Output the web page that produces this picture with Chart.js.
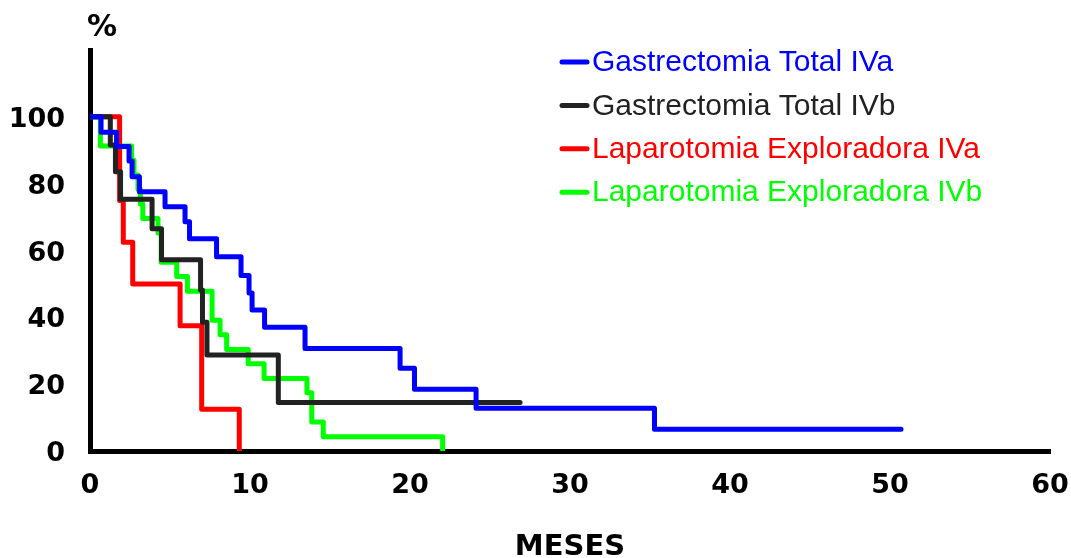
<!DOCTYPE html>
<html>
<head>
<meta charset="utf-8">
<script src="https://cdn.jsdelivr.net/npm/chart.js@4/dist/chart.umd.min.js"></script>
<style>
  html, body { margin: 0; padding: 0; background: #ffffff; }
  #wrap { width: 1071px; height: 558px; }
</style>
</head>
<body>
<div id="wrap"><canvas id="km" width="1071" height="558"></canvas></div>
<script>
// Kaplan-Meier survival curves (months vs % surviving)
const seriesLabels = [
  'Gastrectomia Total IVa',
  'Gastrectomia Total IVb',
  'Laparotomia Exploradora IVa',
  'Laparotomia Exploradora IVb'
];

const gtIVaMonths = [0, 0.69, 1.66, 2.44, 2.63, 3.09, 4.69, 5.94, 6.22, 7.91, 9.44, 9.94, 10.13, 10.91, 13.44, 19.38, 20.28, 24.13, 35.28, 50.69];
const gtIVaPct    = [100, 95.4, 91.1, 86.8, 82.1, 77.6, 73.1, 68.6, 63.5, 58.1, 52.5, 47.3, 42.2, 37.0, 30.7, 24.8, 18.5, 12.8, 6.5, 6.5];

const gtIVbMonths = [0, 1.27, 1.59, 1.91, 3.88, 4.47, 6.91, 7.03, 7.31, 11.77, 26.88];
const gtIVbPct    = [100, 91.6, 83.6, 75.3, 66.5, 57.2, 48.2, 38.5, 28.7, 14.5, 14.5];

const leIVaMonths = [0, 1.85, 2.08, 2.67, 5.63, 6.98, 9.33];
const leIVaPct    = [100, 75, 62.5, 50, 37.5, 12.5, 0];

const leIVbMonths = [0, 0.65, 2.6, 2.75, 3.0, 3.15, 3.3, 4.25, 4.45, 5.42, 6.09, 7.63, 8.13, 8.54, 9.89, 10.88, 13.56, 13.86, 14.58, 22.04];
const leIVbPct    = [100, 91.3, 87, 82.6, 78.3, 73.9, 69.6, 65.2, 56.5, 52.2, 47.8, 39.1, 34.8, 30.4, 26.1, 21.7, 17.4, 8.7, 4.3, 0];

const seriesColors = ['#0000ff', '#222222', '#ff0000', '#00ff00'];
const drawOrder    = [0, 1, 2, 3];

const xTickValues = [0, 10, 20, 30, 40, 50, 60];
const yTickValues = [0, 20, 40, 60, 80, 100];

const xTitle = 'MESES';
const yUnit = '%';

function toPoints(months, pct) {
  return months.map((m, i) => ({ x: m, y: pct[i] }));
}

const seriesData = [
  toPoints(gtIVaMonths, gtIVaPct),
  toPoints(gtIVbMonths, gtIVbPct),
  toPoints(leIVaMonths, leIVaPct),
  toPoints(leIVbMonths, leIVbPct)
];

const datasets = seriesData.map((pts, i) => ({
  label: seriesLabels[i],
  data: pts,
  borderColor: seriesColors[i],
  backgroundColor: seriesColors[i],
  borderWidth: 5,
  stepped: 'before',
  pointRadius: 0,
  fill: false,
  borderCapStyle: 'round',
  borderJoinStyle: 'round',
  order: drawOrder[i]
}));

// Legend block (top right) and the "%" unit label above the y axis
const annotations = {
  id: 'annotations',
  afterDraw(chart) {
    const ctx = chart.ctx;
    ctx.save();
    const rowTop = 62, rowStep = 43.4;
    seriesLabels.forEach((label, i) => {
      const y = rowTop + i * rowStep;
      ctx.strokeStyle = seriesColors[i];
      ctx.lineWidth = 5;
      ctx.lineCap = 'round';
      ctx.beginPath();
      ctx.moveTo(562, y);
      ctx.lineTo(587, y);
      ctx.stroke();
      ctx.fillStyle = seriesColors[i];
      ctx.font = '30px "Liberation Sans", Arial, sans-serif';
      ctx.textAlign = 'left';
      ctx.textBaseline = 'middle';
      ctx.fillText(label, 592, y + 1);
    });
    ctx.fillStyle = '#000000';
    ctx.font = 'bold 30px "DejaVu Sans", sans-serif';
    ctx.textAlign = 'center';
    ctx.textBaseline = 'middle';
    ctx.fillText(yUnit, 102, 28);
    ctx.restore();
  }
};

const tickFont = { family: '"DejaVu Sans", sans-serif', size: 27, weight: 'bold' };

new Chart(document.getElementById('km'), {
  type: 'line',
  data: { datasets },
  options: {
    responsive: false,
    animation: false,
    devicePixelRatio: 1,
    layout: { padding: { top: 50, right: 21, left: 0, bottom: 0 } },
    plugins: { legend: { display: false }, tooltip: { enabled: false } },
    scales: {
      x: {
        type: 'linear',
        min: 0,
        max: 60,
        afterBuildTicks: (s) => { s.ticks = xTickValues.map(v => ({ value: v })); },
        afterFit: (s) => { s.height = 107; s.paddingLeft = 0; s.paddingRight = 0; },
        grid: { display: true, drawOnChartArea: false, drawTicks: false, color: 'rgba(0,0,0,0)' },
        border: { display: true, color: '#000000', width: 5 },
        ticks: { color: '#000000', font: tickFont, padding: 19, maxRotation: 0 },
        title: {
          display: true,
          text: xTitle,
          color: '#000000',
          font: { family: '"DejaVu Sans", sans-serif', size: 29, weight: 'bold', lineHeight: 1 },
          padding: { top: 0, bottom: -4 }
        }
      },
      y: {
        type: 'linear',
        min: 0,
        max: 120,
        afterBuildTicks: (s) => { s.ticks = yTickValues.map(v => ({ value: v })); },
        afterFit: (s) => { s.width = 90; s.paddingTop = 0; s.paddingBottom = 0; },
        grid: { display: true, drawOnChartArea: false, drawTicks: false, color: 'rgba(0,0,0,0)' },
        border: { display: true, color: '#000000', width: 5 },
        ticks: { color: '#000000', font: tickFont, padding: 25, labelOffset: 3 }
      }
    }
  },
  plugins: [annotations]
});
</script>
</body>
</html>
